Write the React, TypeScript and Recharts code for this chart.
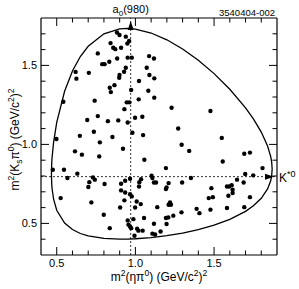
import React from "react";
import { ScatterChart, Scatter, XAxis, YAxis, ReferenceLine, ReferenceDot } from "recharts";

// m^2(eta pi0), m^2(Ks pi0) per event, GeV^2
const events: [number, number][] = [
  [0.883, 1.708], [0.899, 1.692], [0.939, 1.682], [0.842, 1.641], [0.859, 1.612],
  [0.872, 1.603], [0.909, 1.612], [0.96, 1.654], [0.949, 1.639], [0.761, 1.576],
  [0.789, 1.508], [0.804, 1.508], [0.834, 1.523], [0.884, 1.544], [0.951, 1.549],
  [0.977, 1.549], [1.087, 1.559], [1.118, 1.544], [0.62, 1.459], [0.704, 1.453],
  [0.625, 1.416], [0.899, 1.439], [0.897, 1.422], [0.939, 1.485], [1.072, 1.485],
  [0.928, 1.46], [1.089, 1.439], [1.12, 1.418], [0.867, 1.375], [0.837, 1.359],
  [0.844, 1.331], [1.023, 1.401], [0.973, 1.344], [1.082, 1.34], [1.12, 1.296],
  [0.542, 1.27], [0.741, 1.277], [0.945, 1.266], [0.962, 1.266], [1.021, 1.285],
  [0.93, 1.223], [1.23, 1.232], [0.761, 1.179], [0.694, 1.154], [0.825, 1.147],
  [0.891, 1.152], [0.998, 1.169], [1.044, 1.175], [0.951, 1.139], [1.477, 1.211],
  [1.272, 1.101], [0.736, 1.08], [0.981, 1.074], [1.049, 1.059], [0.647, 1.054],
  [0.854, 1.047], [1.549, 1.041], [0.498, 1.034],
  [0.774, 1.013], [0.616, 0.956], [0.66, 0.935], [0.77, 0.924], [0.475, 0.84],
  [0.546, 0.84], [0.631, 0.815], [0.568, 0.787], [0.73, 0.791], [0.742, 0.777],
  [0.707, 0.761], [0.804, 0.749], [0.701, 0.73], [0.525, 0.66], [0.72, 0.633],
  [0.799, 0.555], [0.837, 0.47], [0.921, 0.972], [1.057, 0.903], [1.294, 0.998],
  [1.342, 0.959], [1.194, 0.85], [0.966, 0.783], [0.935, 0.77], [0.909, 0.751],
  [1.036, 0.78], [1.025, 0.761], [1.103, 0.802], [1.108, 0.787], [1.118, 0.759],
  [1.131, 0.759], [1.211, 0.755], [1.198, 0.728], [1.194, 0.717], [1.297, 0.759],
  [1.353, 0.787], [1.023, 0.734], [0.909, 0.709], [0.935, 0.696], [0.966, 0.685],
  [0.977, 0.671], [0.93, 0.646], [1.008, 0.639], [1.034, 0.622], [0.903, 0.601],
  [0.998, 0.601], [1.139, 0.603], [1.22, 0.633], [1.211, 0.618], [1.226, 0.618],
  [1.293, 0.57], [1.241, 0.549], [1.389, 0.592], [0.951, 0.519], [0.987, 0.527],
  [1.055, 0.534], [1.194, 0.534], [1.209, 0.538], [0.956, 0.492], [0.966, 0.481],
  [0.973, 0.47], [1.118, 0.498], [1.198, 0.496], [1.011, 0.466], [1.019, 0.454],
  [1.046, 0.454], [1.16, 0.449], [1.108, 0.435], [1.125, 0.43], [0.994, 0.422],
  [1.692, 0.941], [1.728, 0.948], [1.555, 0.892], [1.808, 0.85], [1.698, 0.813],
  [1.749, 0.804], [1.646, 0.777], [1.688, 0.759], [1.612, 0.742], [1.597, 0.734],
  [1.582, 0.734], [1.618, 0.713], [1.618, 0.692], [1.483, 0.723], [1.591, 0.675],
  [1.466, 0.66], [1.492, 0.666], [1.728, 0.666], [1.407, 0.565], [1.477, 0.587],
  [1.582, 0.597], [1.692, 0.603],
];

// kinematic boundary
const boundaryEtaPi = [0.4663, 0.468, 0.47, 0.48, 0.5, 0.55, 0.6, 0.65, 0.7, 0.8, 0.9, 0.95, 1.0, 1.1, 1.2, 1.3, 1.4, 1.5, 1.6, 1.7, 1.75, 1.8, 1.84, 1.86, 1.866, 1.8692];
const boundaryUpper = [0.812, 0.878, 0.912, 1.013, 1.139, 1.336, 1.465, 1.556, 1.621, 1.7, 1.731, 1.734, 1.73, 1.705, 1.662, 1.604, 1.532, 1.448, 1.349, 1.231, 1.161, 1.078, 0.99, 0.923, 0.89, 0.844];
const boundaryLower = [0.812, 0.752, 0.724, 0.653, 0.583, 0.502, 0.461, 0.436, 0.421, 0.405, 0.4, 0.401, 0.403, 0.41, 0.422, 0.439, 0.461, 0.489, 0.525, 0.576, 0.612, 0.659, 0.718, 0.77, 0.8, 0.844];

const xTicks = [0.5, 0.6, 0.7, 0.8, 0.9, 1.0, 1.1, 1.2, 1.3, 1.4, 1.5, 1.6, 1.7, 1.8];
const yTicks = [0.4, 0.5, 0.6, 0.7, 0.8, 0.9, 1.0, 1.1, 1.2, 1.3, 1.4, 1.5, 1.6, 1.7];
const xDomain = [0.4, 1.9];
const yDomain = [0.3, 1.8];

const a0MassSq = 0.97;
const kstarMassSq = 0.796;
const plotId = "3540404-002";

const FONT = "'Liberation Sans', Arial, Helvetica, sans-serif";

const eventData = events.map(([x, y]) => ({ x, y }));
const boundaryData = [
  ...boundaryEtaPi.map((x, i) => ({ x, y: boundaryUpper[i] })),
  ...boundaryEtaPi.map((x, i) => ({ x, y: boundaryLower[i] })).reverse(),
];

const isMajor = (v: number) => Math.abs(v * 2 - Math.round(v * 2)) < 1e-6;
const tickLen = (v: number) => (isMajor(v) ? 8 : 4.5);

// rich text: each part is [text, shift] where shift is 0 (normal), -1 (sup), 1 (sub)
type Part = [string, number];
const rich = (parts: Part[], small: number) => {
  let cur = 0;
  return parts.map(([t, s], i) => {
    const target = s < 0 ? -5 : s > 0 ? 3 : 0;
    const dy = target - cur;
    cur = target;
    return (
      <tspan key={i} dy={dy} fontSize={s !== 0 ? small : undefined}>
        {t}
      </tspan>
    );
  });
};

const BottomTick = ({ x, y, payload }: any) => (
  <g>
    <line x1={x} x2={x} y1={y} y2={y - tickLen(payload.value)} stroke="#000" />
    {isMajor(payload.value) && (
      <text x={x} y={y + 12} textAnchor="middle" fontSize={11} fontFamily={FONT} fill="#000">
        {payload.value.toFixed(1)}
      </text>
    )}
  </g>
);

const TopTick = ({ x, y, payload }: any) => (
  <line x1={x} x2={x} y1={y} y2={y + tickLen(payload.value)} stroke="#000" />
);

const LeftTick = ({ x, y, payload }: any) => (
  <g>
    <line x1={x} x2={x + tickLen(payload.value)} y1={y} y2={y} stroke="#000" />
    {isMajor(payload.value) && (
      <text x={x - 4} y={y + 4} textAnchor="end" fontSize={11} fontFamily={FONT} fill="#000">
        {payload.value.toFixed(1)}
      </text>
    )}
  </g>
);

const RightTick = ({ x, y, payload }: any) => (
  <line x1={x} x2={x - tickLen(payload.value)} y1={y} y2={y} stroke="#000" />
);

const XTitle = ({ viewBox }: any) => (
  <text x={viewBox.x + viewBox.width / 2} y={viewBox.y + 25.5} textAnchor="middle" fontSize={12} fontFamily={FONT} fill="#000">
    {rich([["m", 0], ["2", -1], ["(ηπ", 0], ["0", -1], [") (GeV/c", 0], ["2", -1], [")", 0], ["2", -1]], 8.5)}
  </text>
);

const YTitle = ({ viewBox }: any) => {
  const cx = 19;
  const cy = viewBox.y + viewBox.height / 2 + 3;
  return (
    <text x={cx} y={cy} transform={`rotate(-90 ${cx} ${cy})`} textAnchor="middle" fontSize={12} fontFamily={FONT} fill="#000">
      {rich([["m", 0], ["2", -1], ["(K", 0], ["s", 1], ["π", 0], ["0", -1], [") (GeV/c", 0], ["2", -1], [")", 0], ["2", -1]], 8.5)}
    </text>
  );
};

const IdLabel = ({ viewBox }: any) => (
  <text x={viewBox.x + viewBox.width - 2} y={viewBox.y - 1} textAnchor="end" fontSize={9.5} fontFamily={FONT} fill="#000">
    {plotId}
  </text>
);

const ArrowUp = ({ cx, cy }: any) => (
  <g>
    <path d={`M${cx},${cy + 3} L${cx - 3},${cy + 12} L${cx + 3},${cy + 12} Z`} fill="#000" />
    <text x={cx} y={cy - 5} textAnchor="middle" fontSize={11} fontFamily={FONT} fill="#000">
      {rich([["a", 0], ["0", 1], ["(980)", 0]], 8)}
    </text>
  </g>
);

const ArrowRight = ({ cx, cy }: any) => (
  <g>
    <path d={`M${cx - 3},${cy} L${cx - 12},${cy - 3} L${cx - 12},${cy + 3} Z`} fill="#000" />
    <text x={cx + 2} y={cy + 5} textAnchor="start" fontSize={12} fontFamily={FONT} fill="#000">
      {rich([["K", 0], ["*0", -1]], 9)}
    </text>
  </g>
);

const Dot = ({ cx, cy }: any) => <circle cx={cx} cy={cy} r={2.2} fill="#000" />;
const NoDot = () => <g />;

export default function App() {
  return (
    <div style={{ position: "absolute", left: 0, top: 0, background: "#fff" }}>
      <ScatterChart width={299} height={289} margin={{ top: 17, right: 21, bottom: 0, left: 0 }}>
        <XAxis
          dataKey="x"
          type="number"
          domain={xDomain}
          ticks={xTicks}
          interval={0}
          allowDataOverflow
          height={34}
          tickSize={0}
          tickMargin={0}
          tickLine={false}
          tick={<BottomTick />}
          axisLine={{ stroke: "#000", strokeWidth: 1.2 }}
          label={<XTitle />}
        />
        <XAxis
          xAxisId="top"
          dataKey="x"
          orientation="top"
          type="number"
          domain={xDomain}
          ticks={xTicks}
          interval={0}
          allowDataOverflow
          height={1}
          tickSize={0}
          tickMargin={0}
          tickLine={false}
          tick={<TopTick />}
          axisLine={{ stroke: "#000", strokeWidth: 1.2 }}
          label={<IdLabel />}
        />
        <YAxis
          dataKey="y"
          type="number"
          domain={yDomain}
          ticks={yTicks}
          interval={0}
          allowDataOverflow
          width={41}
          tickSize={0}
          tickMargin={0}
          tickLine={false}
          tick={<LeftTick />}
          axisLine={{ stroke: "#000", strokeWidth: 1.2 }}
          label={<YTitle />}
        />
        <YAxis
          yAxisId="right"
          dataKey="y"
          orientation="right"
          type="number"
          domain={yDomain}
          ticks={yTicks}
          interval={0}
          allowDataOverflow
          width={1}
          tickSize={0}
          tickMargin={0}
          tickLine={false}
          tick={<RightTick />}
          axisLine={{ stroke: "#000", strokeWidth: 1.2 }}
        />
        <ReferenceLine x={a0MassSq} stroke="#000" strokeWidth={0.8} strokeDasharray="2 2" />
        <ReferenceLine y={kstarMassSq} stroke="#000" strokeWidth={0.8} strokeDasharray="2 2" />
        <Scatter
          data={boundaryData}
          line={{ stroke: "#000", strokeWidth: 1.3 }}
          lineType="joint"
          shape={<NoDot />}
          isAnimationActive={false}
        />
        <Scatter
          xAxisId="top"
          yAxisId="right"
          data={boundaryData}
          shape={<NoDot />}
          isAnimationActive={false}
        />
        <Scatter data={eventData} shape={<Dot />} isAnimationActive={false} />
        <ReferenceDot x={a0MassSq} y={yDomain[1]} ifOverflow="visible" shape={<ArrowUp />} />
        <ReferenceDot x={xDomain[1]} y={kstarMassSq} ifOverflow="visible" shape={<ArrowRight />} />
      </ScatterChart>
    </div>
  );
}
